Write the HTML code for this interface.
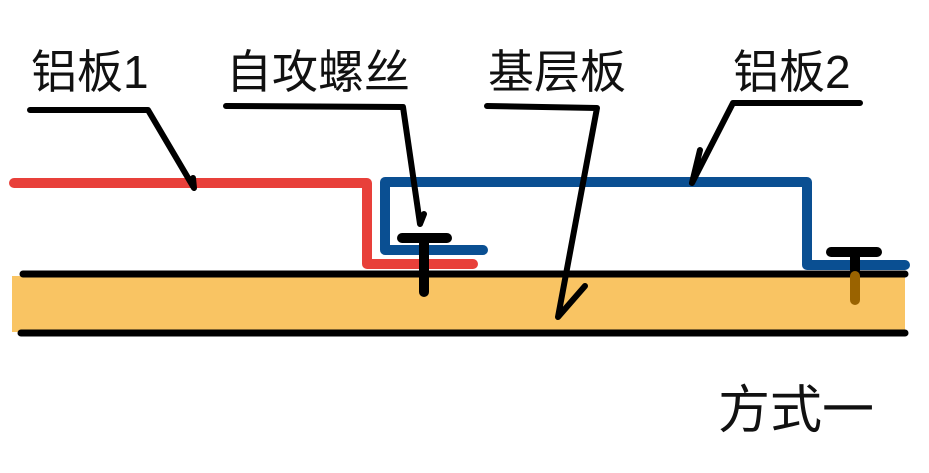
<!DOCTYPE html>
<html><head><meta charset="utf-8"><style>
body{margin:0;background:#fff;width:929px;height:473px;overflow:hidden}
svg{display:block}
text{font-family:"Liberation Sans","Noto Sans CJK SC",sans-serif;fill:#111}
</style></head><body>
<svg width="929" height="473" viewBox="0 0 929 473">
<rect x="12" y="276" width="893" height="56" fill="#F9C463"/>
<g stroke="#000" stroke-width="7" stroke-linecap="round" fill="none">
<line x1="23" y1="274" x2="905" y2="274"/>
<line x1="21" y1="333" x2="905" y2="333"/>
</g>
<g stroke="#E8403A" stroke-width="10" stroke-linecap="round" stroke-linejoin="round" fill="none">
<polyline points="14,183 367,183 367,264 473,264"/>
</g>
<g stroke="#0A4F92" stroke-width="10" stroke-linecap="round" stroke-linejoin="round" fill="none">
<polyline points="483,250 385,250 385,182 807,182 807,265 905,265"/>
</g>
<g stroke="#000" stroke-width="10" stroke-linecap="round" fill="none">
<line x1="402" y1="238" x2="447" y2="238"/>
<line x1="424" y1="238" x2="424" y2="292"/>
<line x1="831" y1="252" x2="877" y2="252"/>
<line x1="855" y1="252" x2="855" y2="270"/>
</g>
<line x1="855" y1="276" x2="855" y2="300" stroke="#9A6300" stroke-width="10" stroke-linecap="round"/>
<g stroke="#000" stroke-width="6" stroke-linecap="round" stroke-linejoin="round" fill="none">
<polyline points="30,110 148,110 194,188 193,178"/>
<polyline points="226,106 403,107 420,224 424,214"/>
<polyline points="487,106 597,108 558,317 585,286"/>
<polyline points="860,103 733,103 692,183 700,150"/>
</g>
<text x="31" y="88" font-size="46">铝板1</text>
<text x="226" y="88" font-size="46">自攻螺丝</text>
<text x="488" y="88" font-size="46">基层板</text>
<text x="733" y="88" font-size="46">铝板2</text>
<text x="718" y="428" font-size="52">方式一</text>
</svg>
</body></html>
